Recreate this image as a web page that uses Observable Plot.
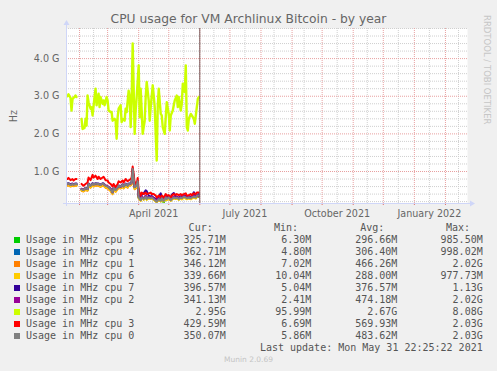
<!DOCTYPE html>
<html><head><meta charset="utf-8">
<script src="https://cdn.jsdelivr.net/npm/d3@7"></script>
<script src="https://cdn.jsdelivr.net/npm/@observablehq/plot@0.6"></script>
<style>
html,body{margin:0;padding:0;background:#F0F0F0;}
#root{position:relative;width:497px;height:371px;overflow:hidden;font-family:"DejaVu Sans";color:#666;}
#root svg{position:absolute;left:0;top:0;}
.t{position:absolute;white-space:pre;}
.mono{font-family:"DejaVu Sans Mono";font-size:10px;line-height:12px;height:12px;color:#555;}
</style></head><body><div id="root"></div>
<script>
// ---------- data ----------
const titleText = "CPU usage for VM Archlinux Bitcoin - by year";
const totalDates = ["2021-01-20","2021-01-21","2021-01-23","2021-01-24","2021-01-25","2021-01-27","2021-01-28","2021-01-29","2021-01-31",
"2021-02-03","2021-02-04","2021-02-06","2021-02-07","2021-02-08","2021-02-09","2021-02-10","2021-02-12","2021-02-13","2021-02-14","2021-02-16","2021-02-17","2021-02-18","2021-02-20","2021-02-21","2021-02-22","2021-02-24","2021-02-25","2021-02-26","2021-02-28",
"2021-03-01","2021-03-02","2021-03-04","2021-03-05","2021-03-06","2021-03-08","2021-03-09","2021-03-10","2021-03-11","2021-03-12","2021-03-14","2021-03-15","2021-03-16","2021-03-18","2021-03-19","2021-03-20","2021-03-22","2021-03-23","2021-03-24","2021-03-25","2021-03-26","2021-03-27","2021-03-28","2021-03-29","2021-03-30",
"2021-04-01","2021-04-02","2021-04-03","2021-04-04","2021-04-05","2021-04-07","2021-04-08","2021-04-09","2021-04-11","2021-04-12","2021-04-13","2021-04-15","2021-04-16","2021-04-17","2021-04-19","2021-04-20","2021-04-21","2021-04-23","2021-04-24","2021-04-25","2021-04-27","2021-04-28","2021-04-29",
"2021-05-01","2021-05-02","2021-05-03","2021-05-05","2021-05-06","2021-05-07","2021-05-09","2021-05-10","2021-05-11","2021-05-13","2021-05-14","2021-05-15","2021-05-17","2021-05-18","2021-05-19","2021-05-20","2021-05-21","2021-05-23","2021-05-24","2021-05-26","2021-05-27","2021-05-29","2021-05-30","2021-05-31"];
const totalGHz = [3.00,3.05,2.96,2.62,2.93,2.98,3.02,2.98,null,
2.40,2.13,2.16,2.40,2.22,3.02,2.84,2.67,2.71,2.49,2.98,3.20,2.76,3.07,2.71,2.98,2.80,2.89,2.76,2.98,
2.89,2.62,2.58,2.58,2.35,2.40,2.35,1.87,2.44,2.67,2.76,2.31,2.40,2.35,2.67,2.58,3.15,2.98,2.18,2.93,4.40,3.20,2.00,2.62,2.98,
3.82,2.44,3.20,2.62,2.00,2.35,2.98,3.38,2.89,2.35,2.71,3.29,3.02,2.71,1.29,2.71,3.20,2.53,2.49,2.18,2.00,2.44,2.84,
2.53,2.09,2.49,2.62,2.76,2.89,3.02,2.71,2.98,2.62,2.80,3.33,3.11,3.82,2.18,2.09,2.40,2.53,2.49,2.40,2.27,2.71,2.93,2.98];

const cpuDates = ["2021-01-20","2021-01-21","2021-01-23","2021-01-25","2021-01-26","2021-01-28","2021-01-29","2021-01-31",
"2021-02-03","2021-02-05","2021-02-07","2021-02-09","2021-02-10","2021-02-12","2021-02-14","2021-02-15","2021-02-17","2021-02-19","2021-02-20","2021-02-22","2021-02-24","2021-02-25","2021-02-27",
"2021-03-01","2021-03-02","2021-03-04","2021-03-06","2021-03-07","2021-03-09","2021-03-11","2021-03-12","2021-03-14","2021-03-16","2021-03-17","2021-03-19","2021-03-21","2021-03-22","2021-03-24","2021-03-25","2021-03-26","2021-03-28","2021-03-29","2021-03-30","2021-03-31",
"2021-04-01","2021-04-03","2021-04-04","2021-04-06","2021-04-08","2021-04-09","2021-04-11","2021-04-13","2021-04-14","2021-04-16","2021-04-18","2021-04-19","2021-04-21","2021-04-23","2021-04-24","2021-04-26","2021-04-28","2021-04-29",
"2021-05-01","2021-05-03","2021-05-04","2021-05-06","2021-05-08","2021-05-09","2021-05-11","2021-05-13","2021-05-14","2021-05-16","2021-05-18","2021-05-19","2021-05-21","2021-05-23","2021-05-24","2021-05-26","2021-05-28","2021-05-29","2021-05-31"];

const cpu5 = [0.64,0.65,0.62,0.64,0.63,0.64,0.64,null,
0.51,0.49,0.54,0.51,0.64,0.60,0.65,0.63,0.65,0.64,0.64,0.62,0.65,0.64,0.60,
0.58,0.56,0.51,0.42,0.54,0.49,0.56,0.60,0.58,0.63,0.58,0.64,0.60,0.64,0.65,0.68,0.96,0.56,0.58,0.60,0.71,
0.30,0.23,0.30,0.26,0.31,0.26,0.30,0.28,0.30,0.26,0.21,0.19,0.26,0.21,0.27,0.17,0.30,0.26,
0.30,0.23,0.26,0.30,0.28,0.30,0.26,0.30,0.28,0.32,0.30,0.28,0.30,0.28,0.30,0.32,0.30,0.32,0.33];
const cpu4 = [0.65,0.66,0.63,0.65,0.64,0.65,0.65,null,
0.52,0.50,0.55,0.52,0.65,0.61,0.66,0.64,0.66,0.65,0.65,0.63,0.66,0.65,0.61,
0.59,0.57,0.52,0.43,0.55,0.50,0.57,0.61,0.59,0.64,0.59,0.65,0.61,0.65,0.66,0.69,0.99,0.57,0.59,0.61,0.72,
0.32,0.25,0.32,0.28,0.35,0.29,0.33,0.30,0.32,0.29,0.24,0.21,0.28,0.23,0.30,0.23,0.32,0.28,
0.32,0.25,0.28,0.32,0.30,0.32,0.28,0.32,0.30,0.34,0.32,0.30,0.32,0.30,0.32,0.34,0.32,0.35,0.36];
const cpu1 = [0.62,0.63,0.60,0.62,0.61,0.62,0.62,null,
0.49,0.47,0.51,0.49,0.62,0.57,0.63,0.60,0.63,0.62,0.62,0.59,0.63,0.62,0.57,
0.55,0.53,0.48,0.40,0.51,0.46,0.53,0.57,0.55,0.60,0.55,0.62,0.57,0.62,0.63,0.66,1.02,0.53,0.55,0.57,0.69,
0.30,0.23,0.30,0.26,0.32,0.26,0.30,0.28,0.30,0.26,0.21,0.19,0.26,0.21,0.28,0.21,0.30,0.26,
0.30,0.23,0.26,0.30,0.28,0.30,0.26,0.30,0.28,0.32,0.30,0.28,0.30,0.28,0.30,0.32,0.30,0.34,0.35];
const cpu6 = [0.63,0.64,0.61,0.63,0.62,0.63,0.63,null,
0.50,0.48,0.52,0.50,0.63,0.58,0.64,0.61,0.64,0.63,0.63,0.60,0.64,0.63,0.58,
0.56,0.54,0.49,0.41,0.52,0.47,0.54,0.58,0.56,0.61,0.56,0.63,0.58,0.63,0.64,0.67,0.98,0.54,0.56,0.58,0.70,
0.29,0.22,0.29,0.25,0.30,0.25,0.28,0.27,0.28,0.25,0.20,0.19,0.25,0.20,0.26,0.20,0.28,0.24,
0.28,0.22,0.25,0.28,0.27,0.28,0.25,0.28,0.26,0.30,0.28,0.26,0.28,0.26,0.28,0.30,0.28,0.33,0.34];
const cpu7 = [0.68,0.69,0.66,0.68,0.66,0.68,0.68,null,
0.54,0.52,0.57,0.54,0.68,0.63,0.69,0.66,0.69,0.68,0.68,0.65,0.69,0.68,0.63,
0.61,0.59,0.54,0.45,0.57,0.52,0.59,0.63,0.61,0.66,0.61,0.68,0.63,0.68,0.69,0.72,1.08,0.59,0.61,0.63,0.75,
0.36,0.30,0.38,0.42,0.50,0.48,0.36,0.33,0.35,0.30,0.27,0.25,0.33,0.42,0.33,0.27,0.35,0.32,
0.36,0.30,0.38,0.43,0.34,0.33,0.30,0.34,0.32,0.36,0.35,0.33,0.34,0.33,0.34,0.45,0.36,0.38,0.40];
const cpu2 = [0.66,0.67,0.65,0.66,0.66,0.66,0.66,null,
0.54,0.52,0.55,0.54,0.66,0.63,0.67,0.66,0.67,0.66,0.66,0.65,0.67,0.66,0.63,
0.61,0.59,0.54,0.45,0.55,0.52,0.57,0.61,0.59,0.64,0.61,0.66,0.63,0.66,0.67,0.70,1.05,0.59,0.61,0.63,0.72,
0.33,0.26,0.33,0.29,0.36,0.30,0.32,0.31,0.33,0.28,0.24,0.22,0.29,0.25,0.31,0.24,0.33,0.29,
0.33,0.26,0.29,0.33,0.31,0.32,0.29,0.32,0.30,0.35,0.33,0.31,0.32,0.31,0.33,0.35,0.33,0.37,0.34];
const cpu3 = [0.80,0.83,0.77,0.80,0.76,0.80,0.80,null,
0.67,0.62,0.67,0.71,0.84,0.77,0.91,0.84,0.89,0.80,0.86,0.80,0.84,0.86,0.77,
0.76,0.71,0.67,0.60,0.67,0.58,0.67,0.74,0.71,0.76,0.71,0.80,0.74,0.76,0.80,0.84,1.13,0.71,0.71,0.62,0.83,
0.49,0.36,0.44,0.40,0.44,0.40,0.42,0.44,0.40,0.40,0.36,0.31,0.36,0.31,0.36,0.31,0.40,0.36,
0.37,0.31,0.36,0.40,0.38,0.40,0.37,0.40,0.37,0.40,0.42,0.36,0.37,0.40,0.37,0.42,0.40,0.44,0.44];
const cpu0 = [0.67,0.68,0.64,0.67,0.65,0.67,0.67,null,
0.53,0.51,0.56,0.53,0.67,0.62,0.68,0.65,0.68,0.67,0.67,0.64,0.68,0.67,0.62,
0.60,0.58,0.53,0.44,0.56,0.51,0.58,0.62,0.60,0.65,0.60,0.67,0.62,0.67,0.68,0.71,1.07,0.58,0.60,0.62,0.74,
0.31,0.24,0.31,0.27,0.33,0.27,0.31,0.29,0.31,0.27,0.22,0.20,0.27,0.22,0.29,0.22,0.31,0.27,
0.31,0.24,0.27,0.31,0.29,0.31,0.27,0.31,0.29,0.33,0.31,0.29,0.31,0.29,0.31,0.33,0.31,0.36,0.36];

const seriesNames = ["Usage in MHz cpu 5","Usage in MHz cpu 4","Usage in MHz cpu 1","Usage in MHz cpu 6","Usage in MHz cpu 7","Usage in MHz cpu 2","Usage in MHz","Usage in MHz cpu 3","Usage in MHz cpu 0"];
const seriesColors = ["#00CC00","#0066B3","#FF8000","#FFCC00","#330099","#990099","#CCFF00","#FF0000","#808080"];
const curVals = ["325.71M","362.71M","346.12M","339.66M","396.57M","341.13M","2.95G","429.59M","350.07M"];
const minVals = ["6.30M","4.80M","7.02M","10.04M","5.04M","2.41M","95.99M","6.69M","5.86M"];
const avgVals = ["296.66M","306.40M","466.26M","288.00M","376.57M","474.18M","2.67G","569.93M","483.62M"];
const maxVals = ["985.50M","998.02M","2.02G","977.73M","1.13G","2.02G","8.08G","2.03G","2.03G"];
const headers = ["Cur:","Min:","Avg:","Max:"];
const lastUpdate = "Last update: Mon May 31 22:25:22 2021";
const nowTime = "2021-05-31T22:25:22Z";
const footer = "Munin 2.0.69";
const watermark = "RRDTOOL / TOBI OETIKER";
const yLabel = "Hz";

const xDomain = ["2021-01-19","2022-02-23"];
const yDomain = [0.15, 4.8];
const yMajorTicks = [1,2,3,4];
const yMinorTicks = [0.2,0.4,0.6,0.8,1.2,1.4,1.6,1.8,2.2,2.4,2.6,2.8,3.2,3.4,3.6,3.8,4.2,4.4,4.6,4.8];
const xMonthTicks = ["2021-02-01","2021-03-01","2021-04-01","2021-05-01","2021-06-01","2021-07-01","2021-08-01","2021-09-01","2021-10-01","2021-11-01","2021-12-01","2022-01-01","2022-02-01"];
const xMidTicks = ["2021-02-15","2021-03-15","2021-04-15","2021-05-16","2021-06-15","2021-07-16","2021-08-14","2021-09-13","2021-10-16","2021-11-15","2021-12-16","2022-01-16","2022-02-14"];
const xLabelTicks = ["2021-04-16","2021-07-16","2021-10-16","2022-01-16"];

// ---------- build ----------
const P = d => new Date(d + (d.length === 10 ? "T00:00:00Z" : ""));
const cpuSeries = {"Usage in MHz cpu 5":cpu5,"Usage in MHz cpu 4":cpu4,"Usage in MHz cpu 1":cpu1,"Usage in MHz cpu 6":cpu6,"Usage in MHz cpu 7":cpu7,"Usage in MHz cpu 2":cpu2,"Usage in MHz cpu 3":cpu3,"Usage in MHz cpu 0":cpu0};
const lineMarks = seriesNames.map((name, i) => {
  let rows;
  if (name === "Usage in MHz") rows = totalDates.map((d, j) => ({t: P(d), v: totalGHz[j]}));
  else rows = cpuDates.map((d, j) => ({t: P(d), v: cpuSeries[name][j]}));
  return Plot.line(rows, {x: "t", y: "v", stroke: seriesColors[i], strokeWidth: name === "Usage in MHz" ? 2.4 : 2});
});

const GRID = "#cfcfcf", MGRID = "#e8a0a0", AXIS = "#CFD6F8";
const svg = Plot.plot({
  width: 497, height: 222,
  marginLeft: 66, marginRight: 30, marginTop: 28, marginBottom: 19,
  style: {fontFamily: "DejaVu Sans", fontSize: "9.6px", color: "#666", background: "transparent", overflow: "visible"},
  x: {type: "utc", domain: xDomain.map(P)},
  y: {domain: yDomain},
  marks: [
    Plot.frame({fill: "white", stroke: null}),
    Plot.ruleY(yMinorTicks, {stroke: GRID, strokeDasharray: "1,1"}),
    Plot.ruleX(xMidTicks.map(P), {stroke: GRID, strokeDasharray: "1,1"}),
    Plot.ruleY(yMajorTicks, {stroke: MGRID, strokeDasharray: "1,1"}),
    Plot.ruleX(xMonthTicks.map(P), {stroke: MGRID, strokeDasharray: "1,1"}),
    Plot.axisY({ticks: yMajorTicks, tickSize: 0, tickPadding: 7, tickFormat: d => d.toFixed(1) + " G", label: yLabel, labelAnchor: "center", labelArrow: "none", labelOffset: 56, fill: "#666"}),
    Plot.axisX({ticks: xLabelTicks.map(P), tickSize: 0, tickPadding: 7, tickFormat: d3.utcFormat("%B %Y"), label: null, fill: "#666"}),
    Plot.axisX({ticks: xMonthTicks.map(P), tickSize: 2, tickFormat: () => "", label: null, stroke: "#e07070"}),
    ...lineMarks,
    Plot.ruleX([P(nowTime)], {stroke: "#7a5c5c", strokeWidth: 1})
  ]
});
// axis lines with arrows (rrdtool style), positioned from the plot scales
const xs = svg.scale("x"), ys = svg.scale("y");
const x0 = xs.apply(P(xDomain[0])), x1 = xs.apply(P(xDomain[1]));
const y0 = ys.apply(yDomain[0]), y1 = ys.apply(yDomain[1]);
const g = d3.select(svg).append("g").attr("fill", AXIS).attr("stroke", AXIS);
g.append("line").attr("x1", x0 - 3).attr("x2", x1 + 3).attr("y1", y0 + 0.5).attr("y2", y0 + 0.5);
g.append("line").attr("x1", x0 + 0.5).attr("x2", x0 + 0.5).attr("y1", y0 + 3).attr("y2", y1 - 3);
g.append("path").attr("stroke", "none").attr("d", `M${x1+3},${y0-2.5}L${x1+8},${y0+0.5}L${x1+3},${y0+3.5}Z`);
g.append("path").attr("stroke", "none").attr("d", `M${x0-2.5},${y1-3}L${x0+0.5},${y1-8}L${x0+3.5},${y1-3}Z`);

const root = document.getElementById("root");
root.appendChild(svg);

function addText(txt, css, cls) {
  const d = document.createElement("div");
  d.className = "t" + (cls ? " " + cls : "");
  d.textContent = txt;
  Object.assign(d.style, css);
  root.appendChild(d);
  return d;
}
addText(titleText, {left: "0px", width: "497px", textAlign: "center", top: "11px", fontSize: "12.3px", lineHeight: "16px", color: "#666"});
addText(watermark, {left: "492px", top: "15px", fontSize: "8.5px", lineHeight: "10px", color: "#c6c6c6", transformOrigin: "0 0", transform: "rotate(90deg)"});

// legend
const colRight = [225.7, 311.3, 397.3, 482.7];
const headRight = [212.7, 298, 384.3, 470];
headers.forEach((h, k) => addText(h, {right: (497 - headRight[k]) + "px", top: (227.7 - 6) + "px"}, "mono"));
seriesNames.forEach((name, i) => {
  const cy = 240 + 12 * i;
  const sq = document.createElement("div");
  Object.assign(sq.style, {position: "absolute", left: "14px", top: (cy - 3) + "px", width: "6px", height: "6px", background: seriesColors[i]});
  root.appendChild(sq);
  addText(name, {left: "26px", top: (cy - 6) + "px"}, "mono");
  [curVals, minVals, avgVals, maxVals].forEach((arr, k) => addText(arr[i], {right: (497 - colRight[k]) + "px", top: (cy - 6) + "px"}, "mono"));
});
addText(lastUpdate, {right: (497 - 482.7) + "px", top: (347.7 - 6) + "px"}, "mono");
addText(footer, {left: "0px", width: "497px", textAlign: "center", top: "355px", fontSize: "7.5px", lineHeight: "10px", color: "#c4c4c4"});
</script></body></html>
